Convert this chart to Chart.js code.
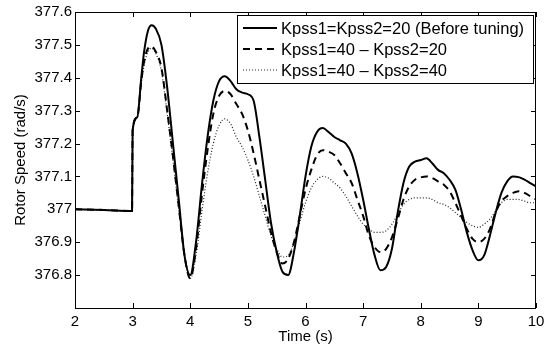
<!DOCTYPE html>
<html>
<head>
<meta charset="utf-8">
<script src="https://cdn.jsdelivr.net/npm/chart.js@4"></script>
<style>
  html, body { margin: 0; padding: 0; background: #fff; }
  #wrap { width: 550px; height: 346px; }
</style>
</head>
<body>
<div id="wrap"><canvas id="speedChart" width="550" height="346"></canvas></div>
<script>
// time axis (s)
const timeS = [
    2, 2.5, 2.99, 3, 3.08, 3.15, 3.2, 3.27, 3.33,
    3.4, 3.5, 3.6, 3.7, 3.8, 3.9,
    4.0, 4.1, 4.2, 4.3, 4.4, 4.5, 4.6, 4.7, 4.8, 4.9,
    5.0, 5.1, 5.2, 5.3, 5.4, 5.5, 5.6, 5.7, 5.8, 5.9,
    6.0, 6.1, 6.2, 6.3, 6.4, 6.5, 6.6, 6.7, 6.8, 6.9,
    7.0, 7.1, 7.2, 7.3, 7.4, 7.5, 7.6, 7.7, 7.8, 7.9,
    8.0, 8.1, 8.2, 8.3, 8.4, 8.5, 8.6, 8.7, 8.8, 8.9,
    9.0, 9.1, 9.2, 9.3, 9.4, 9.5, 9.6, 9.7, 9.8, 9.9,
    10
];

// Kpss1=Kpss2=20 (before tuning)
const speedBefore = [
    377.0, 376.998, 376.995, 377.24, 377.28, 377.40, 377.48, 377.545, 377.56,
    377.55, 377.50, 377.37, 377.20, 377.03, 376.86,
    376.80, 376.90, 377.07, 377.22, 377.33, 377.39, 377.405, 377.39, 377.365, 377.355,
    377.35, 377.33, 377.22, 377.09, 376.96, 376.87, 376.81, 376.80, 376.87, 376.98,
    377.10, 377.19, 377.235, 377.247, 377.235, 377.22, 377.21, 377.20, 377.17, 377.11,
    377.03, 376.94, 376.86, 376.815, 376.825, 376.88, 376.99, 377.08, 377.13, 377.145,
    377.15, 377.155, 377.14, 377.12, 377.11, 377.09, 377.06, 377.0, 376.93, 376.875,
    376.845, 376.86, 376.92, 376.99, 377.05, 377.085, 377.10, 377.098, 377.09, 377.08,
    377.07
];

// Kpss1=40 - Kpss2=20
const speed40_20 = [
    377.0, 376.998, 376.995, 377.24, 377.28, 377.39, 377.45, 377.49, 377.495,
    377.48, 377.43, 377.30, 377.16, 377.01, 376.86,
    376.79, 376.88, 377.04, 377.18, 377.29, 377.345, 377.36, 377.35, 377.32, 377.29,
    377.24, 377.17, 377.09, 377.01, 376.93, 376.87, 376.835, 376.85, 376.90, 376.98,
    377.06, 377.12, 377.165, 377.18, 377.175, 377.165, 377.14, 377.11, 377.08, 377.03,
    376.98, 376.92, 376.885, 376.87, 376.88, 376.915, 376.97, 377.03, 377.07, 377.09,
    377.097, 377.10, 377.095, 377.085, 377.075, 377.055, 377.02, 376.98, 376.94, 376.91,
    376.90, 376.91, 376.94, 376.99, 377.025, 377.04, 377.05, 377.055, 377.05, 377.04,
    377.03
];

// Kpss1=40 - Kpss2=40
const speed40_40 = [
    377.0, 376.998, 376.995, 377.24, 377.28, 377.38, 377.44, 377.48, 377.49,
    377.475, 377.42, 377.29, 377.15, 377.00, 376.86,
    376.79, 376.86, 376.99, 377.11, 377.20, 377.255, 377.275, 377.26, 377.22, 377.19,
    377.15, 377.10, 377.04, 376.98, 376.92, 376.88, 376.855, 376.86, 376.90, 376.96,
    377.02, 377.065, 377.09, 377.10, 377.095, 377.08, 377.065, 377.04, 377.01, 376.98,
    376.955, 376.94, 376.93, 376.93, 376.935, 376.955, 376.985, 377.015, 377.03, 377.035,
    377.035, 377.035, 377.03, 377.02, 377.015, 377.005, 376.99, 376.975, 376.96, 376.95,
    376.945, 376.955, 376.97, 376.995, 377.02, 377.03, 377.03, 377.03, 377.025, 377.02,
    377.02
];

const seriesLabels = [
    "Kpss1=Kpss2=20 (Before tuning)",
    "Kpss1=40 \u2013 Kpss2=20",
    "Kpss1=40 \u2013 Kpss2=40"
];

const FONT = "'Liberation Sans', Arial, Helvetica, sans-serif";

function toPoints(vals) {
    return vals.map((v, i) => ({ x: timeS[i], y: v }));
}

// MATLAB-style box with inward ticks on all four sides
const boxTicks = {
    id: "boxTicks",
    afterDatasetsDraw(chart) {
        const { ctx, chartArea: a, scales } = chart;
        const len = 5;
        ctx.save();
        ctx.strokeStyle = "#000";
        ctx.lineWidth = 1;
        ctx.strokeRect(a.left + 0.5, a.top + 0.5, a.right - a.left - 1, a.bottom - a.top);
        ctx.beginPath();
        scales.x.ticks.forEach(t => {
            const px = Math.round(scales.x.getPixelForValue(t.value)) + 0.5;
            ctx.moveTo(px, a.bottom); ctx.lineTo(px, a.bottom - len);
            ctx.moveTo(px, a.top); ctx.lineTo(px, a.top + len);
        });
        scales.y.ticks.forEach(t => {
            const py = Math.round(scales.y.getPixelForValue(t.value)) + 0.5;
            ctx.moveTo(a.left, py); ctx.lineTo(a.left + len, py);
            ctx.moveTo(a.right, py); ctx.lineTo(a.right - len, py);
        });
        ctx.stroke();
        ctx.restore();
    }
};

// legend box in the upper right corner
const boxLegend = {
    id: "boxLegend",
    afterDraw(chart) {
        const { ctx, chartArea: a } = chart;
        const w = 296, h = 68;
        const x0 = a.right - 3 - w, y0 = a.top + 3;
        ctx.save();
        ctx.fillStyle = "#fff";
        ctx.fillRect(x0, y0, w, h);
        ctx.strokeStyle = "#000";
        ctx.lineWidth = 1;
        ctx.strokeRect(x0 + 0.5, y0 + 0.5, w, h);
        ctx.font = "16.5px " + FONT;
        ctx.textBaseline = "middle";
        ctx.fillStyle = "#000";
        chart.data.datasets.forEach((ds, i) => {
            const y = y0 + 13 + i * 21;
            ctx.beginPath();
            ctx.lineWidth = ds.borderWidth;
            ctx.strokeStyle = ds.borderColor;
            ctx.setLineDash(ds.borderDash || []);
            ctx.moveTo(x0 + 6, y);
            ctx.lineTo(x0 + 40, y);
            ctx.stroke();
            ctx.setLineDash([]);
            ctx.fillText(ds.label, x0 + 44, y + 1);
        });
        ctx.restore();
    }
};

const ctx = document.getElementById("speedChart").getContext("2d");
const speedChart = new Chart(ctx, {
    type: "line",
    data: {
        datasets: [
            { label: seriesLabels[0], data: toPoints(speedBefore), borderColor: "#000", borderWidth: 2 },
            { label: seriesLabels[1], data: toPoints(speed40_20), borderColor: "#000", borderWidth: 2, borderDash: [7, 5] },
            { label: seriesLabels[2], data: toPoints(speed40_40), borderColor: "#222", borderWidth: 1.2, borderDash: [1, 2] }
        ]
    },
    options: {
        responsive: false,
        animation: false,
        devicePixelRatio: 1,
        parsing: false,
        layout: { padding: { top: 12, right: 14, left: 0, bottom: 0 } },
        elements: {
            point: { radius: 0 },
            line: { cubicInterpolationMode: "monotone", fill: false }
        },
        plugins: {
            legend: { display: false },
            tooltip: { enabled: false }
        },
        scales: {
            x: {
                type: "linear",
                min: 2, max: 10,
                grid: { display: false, drawTicks: false },
                border: { display: false },
                ticks: { stepSize: 1, color: "#000", font: { size: 15, family: FONT }, padding: 5 },
                title: { display: true, text: "Time (s)", color: "#000", font: { size: 15, family: FONT }, padding: { top: 0, bottom: 0 } },
                afterFit: s => { s.height = 38; }
            },
            y: {
                min: 376.7, max: 377.6,
                grid: { display: false, drawTicks: false },
                border: { display: false },
                ticks: {
                    stepSize: 0.1, color: "#000", font: { size: 15, family: FONT }, padding: 3,
                    callback: v => {
                        const r = Math.round(v * 10) / 10;
                        return r <= 376.7 ? "" : String(r);
                    }
                },
                title: { display: true, text: "Rotor Speed (rad/s)", color: "#000", font: { size: 15, family: FONT }, padding: { top: 12, bottom: 4 } },
                afterFit: s => { s.width = 75; }
            }
        }
    },
    plugins: [boxTicks, boxLegend]
});
</script>
</body>
</html>
